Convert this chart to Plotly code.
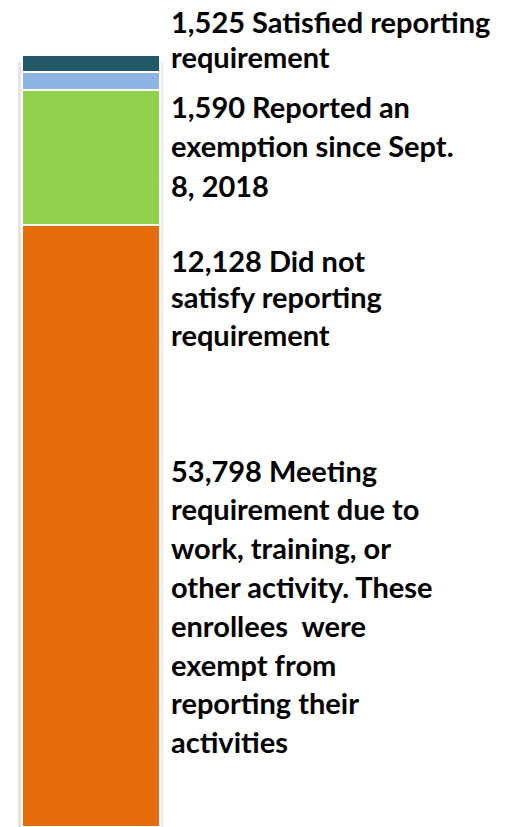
import plotly.graph_objects as go

# Data (bottom to top of the stacked bar)
categories = ["Meeting requirement", "Did not satisfy", "Reported exemption", "Satisfied reporting"]
values = [53798, 12128, 1590, 1525]
colors = ["#E46C0A", "#92D050", "#8EB4E3", "#215968"]
label_lines = [
    ["Meeting", "requirement due to", "work, training, or", "other activity. These",
     "enrollees  were", "exempt from", "reporting their", "activities"],
    ["Did not", "satisfy reporting", "requirement"],
    ["Reported an", "exemption since Sept.", "8, 2018"],
    ["Satisfied reporting", "requirement"],
]

W, H = 515, 827
fig = go.Figure()
for cat, v, c in zip(categories, values, colors):
    fig.add_trace(go.Bar(
        x=[0], y=[v], name=cat, width=1,
        marker=dict(color=c, line=dict(color="white", width=2)),
        hoverinfo="skip",
    ))

total = sum(values)
bar_left, bar_right, bar_top = 22, 160, 55

# label block start positions (pixel y of first line centre) and line spacing
block_start = [470, 260, 106, 22]
line_gaps = [38.8, 37, 39.5, 35]
annotations = []
for v, lines, y0, gap in zip(values, label_lines, block_start, line_gaps):
    texts = [f"{v:,} {lines[0]}"] + lines[1:]
    for i, t in enumerate(texts):
        y = y0 + i * gap
        annotations.append(dict(
            x=169 / W, y=1 - y / H, xref="paper", yref="paper",
            xanchor="left", yanchor="middle", showarrow=False,
            text="<b>" + t.replace("  ", "&nbsp; ") + "</b>",
            font=dict(family="Lato", size=29, color="#000000"),
        ))

fig.update_layout(
    width=W, height=H,
    margin=dict(l=0, r=0, t=0, b=0),
    barmode="stack", bargap=0,
    showlegend=False,
    paper_bgcolor="white", plot_bgcolor="white",
    xaxis=dict(domain=[bar_left / W, bar_right / W], range=[-0.5, 0.5], visible=False, fixedrange=True),
    yaxis=dict(domain=[0, 1 - bar_top / H], range=[0, total], visible=False, fixedrange=True),
    annotations=annotations,
    shapes=[
        dict(type="rect", xref="paper", yref="paper",
             x0=(bar_left - 4) / W, x1=(bar_left - 1) / W, y0=0, y1=1 - 62 / H,
             fillcolor="#e4e4e4", line=dict(width=0), layer="below"),
        dict(type="rect", xref="paper", yref="paper",
             x0=(bar_right + 1) / W, x1=(bar_right + 3) / W, y0=0, y1=1 - 62 / H,
             fillcolor="#ececec", line=dict(width=0), layer="below"),
    ],
)

fig.write_html(
    "out.html",
    config={"displayModeBar": False},
    post_script="document.body.style.margin='0';document.body.style.overflow='hidden';",
)
